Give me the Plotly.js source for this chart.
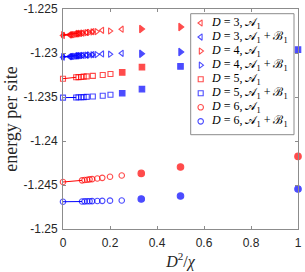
<!DOCTYPE html>
<html>
<head>
<meta charset="utf-8">
<script src="https://cdn.plot.ly/plotly-3.0.1.min.js"></script>
<style>
html,body{margin:0;padding:0;background:#fff;}
#chart{width:305px;height:272px;}
</style>
</head>
<body>
<div id="chart"></div>
<script>
// D^2/chi values (first entry = extrapolation at 0)
const xD3 = [0, 0.0278, 0.03125, 0.0357, 0.0417, 0.05, 0.0556, 0.0625, 0.0714, 0.0833, 0.1, 0.125, 0.1667, 0.25];
const eD3A = [-1.22801, -1.22794, -1.22793, -1.22792, -1.22790, -1.22786, -1.22784, -1.22782, -1.22778, -1.22774, -1.22767, -1.22758, -1.22742, -1.22730];
const eD3AB = [-1.23047, -1.23041, -1.23040, -1.23039, -1.23038, -1.23035, -1.23034, -1.23032, -1.23030, -1.23026, -1.23023, -1.23018, -1.23011, -1.23003];

const xD4 = [0, 0.0625, 0.0714, 0.0833, 0.1, 0.1111, 0.125, 0.1429, 0.2, 0.3333, 0.5];
const eD4A = [-1.22792, -1.22778, -1.22776, -1.22773, -1.22768, -1.22765, -1.22761, -1.22757, -1.22750, -1.22727, -1.22705];
const eD4AB = [-1.23042, -1.23031, -1.23030, -1.23027, -1.23025, -1.23023, -1.23020, -1.23018, -1.23014, -1.23008, -1.22989];

const xD5 = [0, 0.056, 0.066, 0.077, 0.088, 0.101, 0.127, 0.169, 0.202, 0.252, 0.336, 0.5, 1];
const eD5A = [-1.23292, -1.23276, -1.23274, -1.23272, -1.23269, -1.23266, -1.23260, -1.23250, -1.23238, -1.23220, -1.23161];
const eD5AB = [-1.23507, -1.23505, -1.23503, -1.23502, -1.23501, -1.23499, -1.23495, -1.23485, -1.23474, -1.23457, -1.23411, -1.23152, -1.22962];

const xD6 = [0, 0.081, 0.092, 0.103, 0.113, 0.124, 0.146, 0.167, 0.2, 0.25, 0.333, 0.5, 1];
const eD6A = [-1.24466, -1.24447, -1.24443, -1.24440, -1.24436, -1.24433, -1.24426, -1.24419, -1.24406, -1.24392, -1.24368, -1.24295, -1.24175];
const eD6AB = [-1.24690, -1.24688, -1.24686, -1.24685, -1.24684, -1.24683, -1.24682, -1.24680, -1.24678, -1.24676, -1.24659, -1.24625, -1.24545];

// index from which points are drawn filled (not used in fit)
const firstFilled = {D3: 99, D4: 9, D5: 9, D6: 10};

const labels = [
  '<i>D</i> = 3, 𝒜<sub>1</sub>',
  '<i>D</i> = 3, 𝒜<sub>1</sub> + ℬ<sub>1</sub>',
  '<i>D</i> = 4, 𝒜<sub>1</sub>',
  '<i>D</i> = 4, 𝒜<sub>1</sub> + ℬ<sub>1</sub>',
  '<i>D</i> = 5, 𝒜<sub>1</sub>',
  '<i>D</i> = 5, 𝒜<sub>1</sub> + ℬ<sub>1</sub>',
  '<i>D</i> = 6, 𝒜<sub>1</sub>',
  '<i>D</i> = 6, 𝒜<sub>1</sub> + ℬ<sub>1</sub>'
];
const xTicks = [0, 0.2, 0.4, 0.6, 0.8, 1];
const xTickText = ['0', '0.2', '0.4', '0.6', '0.8', '1'];
const yTicks = [-1.25, -1.245, -1.24, -1.235, -1.23, -1.225];
const yTickText = ['-1.25', '-1.245', '-1.24', '-1.235', '-1.23', '-1.225'];

const RED = '#ff0000', BLUE = '#0000ff';

const series = [
  {x: xD3, y: eD3A, c: RED, s: 'triangle-left', ff: firstFilled.D3, name: labels[0]},
  {x: xD3, y: eD3AB, c: BLUE, s: 'triangle-left', ff: firstFilled.D3, name: labels[1]},
  {x: xD4, y: eD4A, c: RED, s: 'triangle-right', ff: firstFilled.D4, name: labels[2]},
  {x: xD4, y: eD4AB, c: BLUE, s: 'triangle-right', ff: firstFilled.D4, name: labels[3]},
  {x: xD5, y: eD5A, c: RED, s: 'square', ff: firstFilled.D5, name: labels[4]},
  {x: xD5, y: eD5AB, c: BLUE, s: 'square', ff: firstFilled.D5, name: labels[5]},
  {x: xD6, y: eD6A, c: RED, s: 'circle', ff: firstFilled.D6, name: labels[6]},
  {x: xD6, y: eD6AB, c: BLUE, s: 'circle', ff: firstFilled.D6, name: labels[7]}
];

function mSize(s, filled) {
  if (s === 'circle') return filled ? 6.5 : 5.5;
  if (s === 'square') return filled ? 5.5 : 5;
  return filled ? 6.5 : 5.5;
}

const traces = [];
// fit lines (extrapolation to first point)
series.forEach(sr => {
  traces.push({
    type: 'scatter', mode: 'lines',
    x: [sr.x[0], sr.x[1]], y: [sr.y[0], sr.y[1]],
    line: {color: sr.c, width: 1},
    showlegend: false, hoverinfo: 'skip', cliponaxis: false
  });
});
series.forEach(sr => {
  const n = sr.y.length;
  const xs = sr.x.slice(0, n);
  traces.push({
    type: 'scatter', mode: 'markers', name: sr.name, showlegend: false,
    x: xs, y: sr.y,
    marker: {
      symbol: xs.map((_, i) => i >= sr.ff ? sr.s : sr.s + '-open'),
      size: xs.map((_, i) => mSize(sr.s, i >= sr.ff)),
      color: sr.c, line: {color: sr.c, width: 1.1}
    },
    cliponaxis: false
  });
});

// hand-built legend (box, symbols, labels) in plot-fraction coordinates
const PL = 63, PR = 298, PT = 9.3, PB = 229.3;
const fx = px => (px - PL) / (PR - PL);
const fy = py => (PB - py) / (PB - PT);
const rowY = series.map((_, i) => fy(23.3 + 14.05 * i));
traces.push({
  type: 'scatter', mode: 'markers', xaxis: 'x2', yaxis: 'y2', showlegend: false,
  x: series.map(() => fx(200.7)), y: rowY,
  marker: {
    symbol: series.map(sr => sr.s + '-open'),
    size: series.map(sr => mSize(sr.s, false)),
    color: series.map(sr => sr.c),
    line: {color: series.map(sr => sr.c), width: 1.1}
  },
  cliponaxis: false, hoverinfo: 'skip'
});

const serif = 'Liberation Serif, Times New Roman, serif';
const annotations = series.map((sr, i) => ({
  xref: 'paper', yref: 'paper', x: fx(209), y: rowY[i],
  xanchor: 'left', yanchor: 'middle', showarrow: false,
  text: sr.name, font: {family: serif, size: 12, color: '#000'}
}));

const axisCommon = {
  showline: true, mirror: 'ticks', linecolor: '#8c8c8c', linewidth: 1,
  ticks: 'inside', ticklen: 3, tickcolor: '#8c8c8c', tickwidth: 1,
  showgrid: false, zeroline: false,
  tickfont: {family: 'Liberation Sans, Arial, sans-serif', size: 12, color: '#262626'}
};

const layout = {
  width: 305, height: 272,
  margin: {l: PL, r: 305 - PR, t: PT, b: 272 - PB},
  paper_bgcolor: '#fff', plot_bgcolor: '#fff',
  showlegend: false,
  annotations: annotations,
  shapes: [{
    type: 'rect', xref: 'paper', yref: 'paper',
    x0: fx(190.7), x1: fx(294), y0: fy(135), y1: fy(14),
    line: {color: '#8c8c8c', width: 1}, fillcolor: 'rgba(0,0,0,0)', layer: 'above'
  }],
  xaxis: Object.assign({}, axisCommon, {
    range: [0, 1], tickvals: xTicks, ticktext: xTickText, ticklabelstandoff: 3,
    title: {text: '<i>D</i><sup>2</sup>/<i>χ</i>', standoff: 3,
      font: {family: serif, size: 16, color: '#262626'}}
  }),
  yaxis: Object.assign({}, axisCommon, {
    range: [-1.25, -1.225], tickvals: yTicks, ticktext: yTickText, ticklabelstandoff: 2,
    title: {text: 'energy per site', standoff: 1,
      font: {family: serif, size: 18, color: '#262626'}}
  }),
  xaxis2: {overlaying: 'x', anchor: 'y2', range: [0, 1], visible: false, fixedrange: true},
  yaxis2: {overlaying: 'y', anchor: 'x2', range: [0, 1], visible: false, fixedrange: true}
};

Plotly.newPlot('chart', traces, layout, {staticPlot: true, displayModeBar: false});
</script>
</body>
</html>
